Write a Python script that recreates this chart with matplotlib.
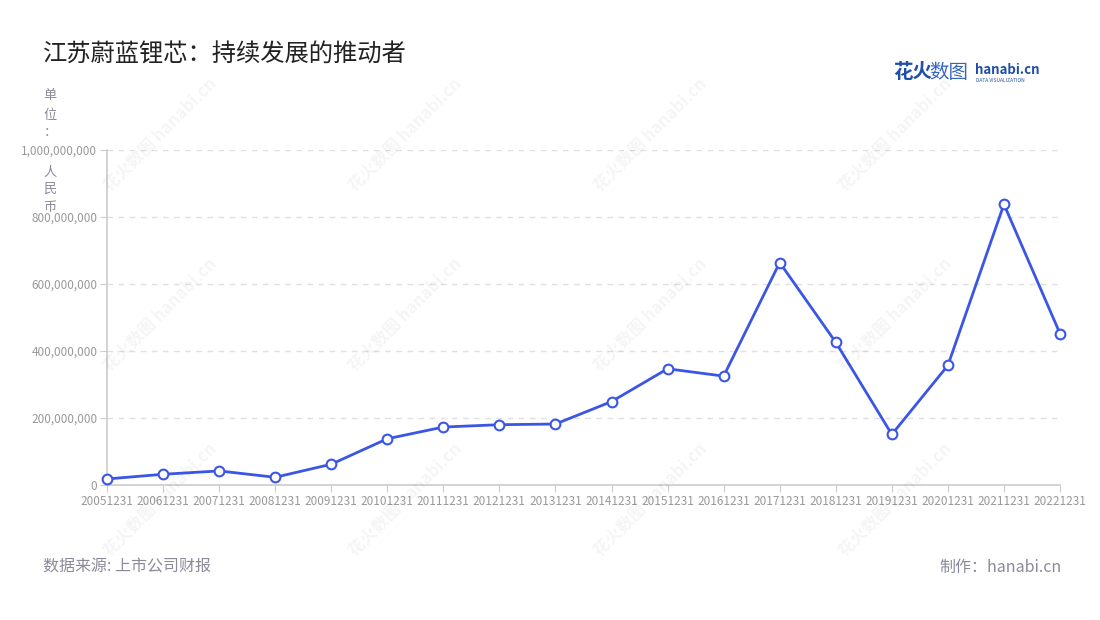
import matplotlib
matplotlib.use("Agg")
import matplotlib.pyplot as plt
from matplotlib.ticker import FuncFormatter

plt.rcParams['font.family'] = ['Noto Sans CJK SC', 'DejaVu Sans']

# Daten (Jahresende, Umsatz in RMB)
perioden = ["20051231", "20061231", "20071231", "20081231", "20091231", "20101231",
            "20111231", "20121231", "20131231", "20141231", "20151231", "20161231",
            "20171231", "20181231", "20191231", "20201231", "20211231", "20221231"]
werte = [18e6, 32e6, 42e6, 23e6, 62e6, 138e6, 173e6, 180e6, 182e6, 249e6,
         347e6, 325e6, 664e6, 426e6, 151e6, 357e6, 838e6, 452e6]
y_ticks = [0, 200e6, 400e6, 600e6, 800e6, 1000e6]

W, H = 1100, 620
fig = plt.figure(figsize=(11, 6.2), dpi=100)
ax = fig.add_axes([107 / W, 1 - 485 / H, (1060 - 107) / W, (485 - 150) / H])

blau = "#3B56E6"
grau = "#999999"

x = list(range(len(perioden)))
ax.plot(x, werte, color=blau, lw=2.0, marker="o", ms=7, mfc="white",
        mec=blau, mew=1.5, zorder=3, clip_on=False)

ax.set_xlim(0, len(perioden) - 1)
ax.set_ylim(0, 1e9)
ax.set_xticks(x)
ax.set_xticklabels(perioden)
ax.set_yticks(y_ticks)
ax.yaxis.set_major_formatter(FuncFormatter(lambda v, p: f"{int(v):,}"))

ax.grid(axis="y", color="#e0e0e0", ls=(0, (4, 4)), lw=1)
ax.set_axisbelow(True)
for s in ["top", "right"]:
    ax.spines[s].set_visible(False)
for s in ["left", "bottom"]:
    ax.spines[s].set_color("#cccccc")
    ax.spines[s].set_linewidth(1.2)
ax.tick_params(axis="both", colors="#cccccc", labelcolor=grau, labelsize=8.5, length=5)
ax.tick_params(axis="x", pad=2)
ax.tick_params(axis="y", pad=2)

# Titel
fig.text(43 / W, 1 - 55 / H, "江苏蔚蓝锂芯：持续发展的推动者", fontsize=17.5,
         color="#222222", ha="left", va="center")

# Einheit (senkrecht, mit Luecke um die oberste Achsenbeschriftung)
einheit_y = [96, 115, 133, 172, 189, 207]
for ch, ey in zip("单位：人民币", einheit_y):
    fig.text(50 / W, 1 - ey / H, ch, fontsize=9.5, color="#8a8a9a",
             ha="center", va="center")

# Logo oben rechts
fig.text(893 / W, 1 - 73 / H, "花火", fontsize=14, color="#1f4fa8",
         fontweight="bold", ha="left", va="center")
fig.text(929 / W, 1 - 73 / H, "数图", fontsize=14, color="#3566c4",
         ha="left", va="center")
fig.text(975 / W, 1 - 70 / H, "hanabi.cn", fontsize=9.5, color="#1f4fa8",
         fontweight="bold", ha="left", va="center")
fig.text(976 / W, 1 - 80 / H, "DATA VISUALIZATION", fontsize=3.5, color="#1f4fa8",
         ha="left", va="center")

# Wasserzeichen
for wx in [160, 405, 650, 895]:
    for wy in [135, 315, 500]:
        fig.text(wx / W, 1 - wy / H, "花火数图 hanabi.cn", fontsize=12,
                 color="#000000", alpha=0.045, rotation=45, ha="center", va="center",
                 fontweight="bold")

# Fusszeile
fig.text(43 / W, 1 - 567 / H, "数据来源: 上市公司财报", fontsize=11.5,
         color="#8a8a9a", ha="left", va="center")
fig.text(1062 / W, 1 - 567 / H, "制作：hanabi.cn", fontsize=11.5,
         color="#8a8a9a", ha="right", va="center")

fig.savefig("out.png", dpi=100)
plt.close(fig)
